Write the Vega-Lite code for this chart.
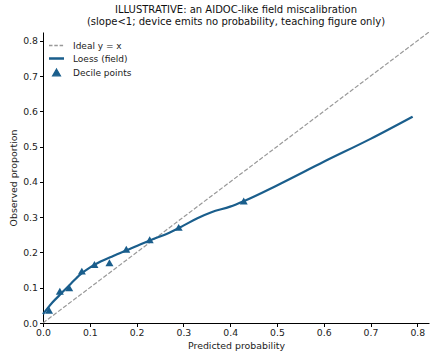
{
  "$schema": "https://vega.github.io/schema/vega-lite/v6.json",
  "width": 386,
  "height": 291,
  "autosize": {"type": "none"},
  "padding": {"left": 43, "top": 32, "right": 1, "bottom": 28},
  "config": {
    "font": "DejaVu Sans",
    "view": {"stroke": null},
    "axis": {"grid": false, "domainColor": "#000", "tickColor": "#000", "labelColor": "#222", "titleColor": "#222", "labelFontSize": 9.3, "titleFontSize": 9.4, "titleFontWeight": "normal", "tickSize": 3.5, "labelPadding": 2, "labelOverlap": false, "labelFlush": false}
  },
  "title": {
    "text": ["ILLUSTRATIVE: an AIDOC-like field miscalibration", "(slope<1; device emits no probability, teaching figure only)"],
    "fontSize": 10, "fontWeight": "normal", "color": "#111", "anchor": "middle", "offset": 5, "lineHeight": 12
  },
  "datasets": {
    "ideal": [{"x": 0, "y": 0, "series": "Ideal y = x"}, {"x": 0.825, "y": 0.825, "series": "Ideal y = x"}],
    "loess": [
      {"x": 0, "y": 0.025}, {"x": 0.01, "y": 0.042}, {"x": 0.02, "y": 0.058}, {"x": 0.04, "y": 0.085},
      {"x": 0.06, "y": 0.112}, {"x": 0.08, "y": 0.138}, {"x": 0.1, "y": 0.157}, {"x": 0.12, "y": 0.172},
      {"x": 0.15, "y": 0.19}, {"x": 0.18, "y": 0.207}, {"x": 0.21, "y": 0.224}, {"x": 0.24, "y": 0.24},
      {"x": 0.27, "y": 0.256}, {"x": 0.3, "y": 0.276}, {"x": 0.33, "y": 0.297}, {"x": 0.36, "y": 0.314},
      {"x": 0.4, "y": 0.33}, {"x": 0.43, "y": 0.346}, {"x": 0.5, "y": 0.39}, {"x": 0.6, "y": 0.457},
      {"x": 0.7, "y": 0.522}, {"x": 0.79, "y": 0.585}
    ],
    "deciles": [
      {"x": 0.013, "y": 0.036}, {"x": 0.036, "y": 0.09}, {"x": 0.056, "y": 0.1}, {"x": 0.083, "y": 0.147},
      {"x": 0.11, "y": 0.166}, {"x": 0.142, "y": 0.171}, {"x": 0.178, "y": 0.209}, {"x": 0.228, "y": 0.236},
      {"x": 0.29, "y": 0.271}, {"x": 0.429, "y": 0.346}
    ]
  },
  "encoding": {
    "x": {"field": "x", "type": "quantitative", "scale": {"domain": [0, 0.825], "nice": false}, "axis": {"values": [0, 0.1, 0.2, 0.3, 0.4, 0.5, 0.6, 0.7, 0.8], "tickCount": 9, "format": ".1f", "title": "Predicted probability"}},
    "y": {"field": "y", "type": "quantitative", "scale": {"domain": [0, 0.825], "nice": false}, "axis": {"values": [0, 0.1, 0.2, 0.3, 0.4, 0.5, 0.6, 0.7, 0.8], "tickCount": 9, "format": ".1f", "title": "Observed proportion"}}
  },
  "layer": [
    {
      "data": {"name": "ideal"},
      "mark": {"type": "line", "strokeDash": [4.4, 1.9], "strokeWidth": 1.2, "clip": true},
      "encoding": {
        "color": {
          "field": "series", "type": "nominal",
          "scale": {"domain": ["Ideal y = x", "Loess (field)", "Decile points"], "range": ["#999999", "#1a5e8c", "#1a5e8c"]},
          "legend": {
            "title": null, "orient": "top-left", "offset": 8, "labelFontSize": 9, "labelColor": "#222",
            "symbolSize": 225, "rowPadding": 2, "labelOffset": 12, "padding": 1,
            "encode": {
              "symbols": {"update": {
                "shape": {"signal": "datum.value === 'Decile points' ? 'triangle-up' : 'stroke'"},
                "size": {"signal": "datum.value === 'Decile points' ? 60 : 225"},
                "fill": {"signal": "datum.value === 'Decile points' ? '#1a5e8c' : 'transparent'"},
                "stroke": {"signal": "datum.value === 'Decile points' ? 'transparent' : (datum.value === 'Ideal y = x' ? '#999999' : '#1a5e8c')"},
                "strokeWidth": {"signal": "datum.value === 'Loess (field)' ? 2.5 : 1.3"},
                "strokeDash": {"signal": "datum.value === 'Ideal y = x' ? [3.5, 1.8] : [1, 0]"}
              }}
            }
          }
        }
      }
    },
    {
      "data": {"name": "loess"},
      "transform": [{"calculate": "'Loess (field)'", "as": "series"}],
      "mark": {"type": "line", "strokeWidth": 2.2, "interpolate": "monotone"},
      "encoding": {
        "color": {"field": "series", "type": "nominal"}
      }
    },
    {
      "data": {"name": "deciles"},
      "transform": [{"calculate": "'Decile points'", "as": "series"}],
      "mark": {"type": "point", "shape": "triangle-up", "filled": true, "size": 64, "opacity": 1},
      "encoding": {
        "color": {"field": "series", "type": "nominal"}
      }
    }
  ]
}
